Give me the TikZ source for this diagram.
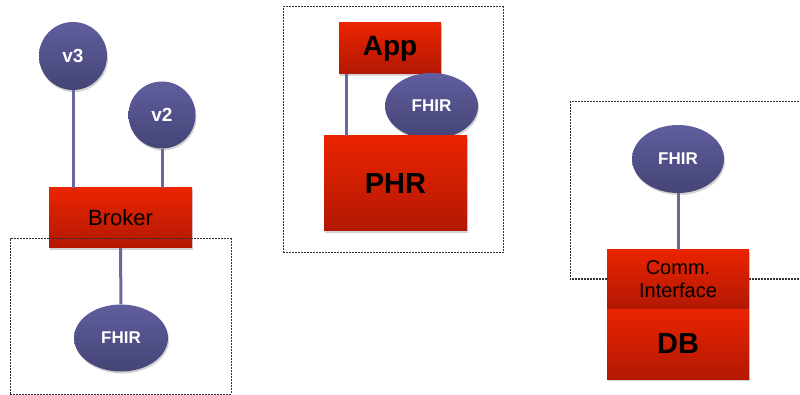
\documentclass[tikz,border=0pt]{standalone}
\usepackage{fontspec}
\setmainfont{Liberation Sans}
\usetikzlibrary{shapes.geometric,shadows}
\definecolor{redtop}{RGB}{234,36,0}
\definecolor{redbot}{RGB}{178,24,4}
\definecolor{purtop}{RGB}{96,94,158}
\definecolor{purbot}{RGB}{68,68,118}
\definecolor{linkc}{RGB}{104,104,158}
\tikzset{
  redbox/.style={rectangle, inner sep=0pt, top color=redtop, bottom color=redbot, draw=none,
    drop shadow={opacity=0.35, shadow xshift=1pt, shadow yshift=-2pt}},
  purple circ/.style={circle, inner sep=0pt, top color=purtop, bottom color=purbot, draw=none,
    text=white, font=\bfseries\fontsize{19}{22}\selectfont,
    drop shadow={opacity=0.35, shadow xshift=1pt, shadow yshift=-2pt}},
  purple ell/.style={ellipse, inner sep=0pt, top color=purtop, bottom color=purbot, draw=none,
    text=white, font=\bfseries\fontsize{17}{20}\selectfont,
    drop shadow={opacity=0.35, shadow xshift=1pt, shadow yshift=-2pt}},
  link/.style={draw=linkc, line width=3pt},
  dashbox/.style={draw=black!80, line width=1pt, dash pattern=on 2pt off 1pt}
}
\begin{document}
\begin{tikzpicture}[x=1pt,y=-1pt]
\useasboundingbox (0,0) rectangle (800,395);
% ---------------- left panel
\node[purple circ, minimum size=68pt] (v3) at (73,56) {v3};
\node[purple circ, minimum size=67pt] (v2) at (162,115) {v2};
\node[redbox, minimum width=143pt, minimum height=60pt, font=\fontsize{22}{26}\selectfont] (broker) at (120.5,218) {Broker};
\node[purple ell, minimum width=94pt, minimum height=67pt] (fhir1) at (121,338) {FHIR};
\draw[link] (v3) -- (v3 |- broker.north);
\draw[link] (v2) -- (v2 |- broker.north);
\draw[link] (broker) -- (fhir1);
\node[dashbox, rectangle, minimum width=221pt, minimum height=155pt, inner sep=0pt] (box1) at (120.5,316.5) {};
% ---------------- middle panel
\node[dashbox, rectangle, minimum width=220pt, minimum height=246pt, inner sep=0pt] (box2) at (393,130) {};
\node[redbox, minimum width=102pt, minimum height=51pt, font=\bfseries\fontsize{28}{32}\selectfont] (app) at (390,48.5) {App};
\coordinate (a1) at (346,74);
\node[purple ell, minimum width=93pt, minimum height=66pt] (fhir2) at (431.5,106) {FHIR};
\node[redbox, minimum width=143pt, minimum height=95pt, font=\bfseries\fontsize{29}{33}\selectfont] (phr) at (395.5,183.5) {PHR};
\draw[link] (a1) -- (a1 |- phr.north);
% ---------------- right panel
\draw[dashbox] (805,102) -- (570,102) -- (570,279) -- (805,279);
\node[purple ell, minimum width=92pt, minimum height=68pt] (fhir3) at (678,159) {FHIR};
\node[redbox, minimum width=142pt, minimum height=58pt, align=center, font=\fontsize{20}{23}\selectfont] (comm) at (678,279) {Comm.\\Interface};
\node[redbox, minimum width=142pt, minimum height=70pt, font=\bfseries\fontsize{29}{33}\selectfont] (db) at (678,344) {DB};
\draw[link] (fhir3) -- (comm);
\end{tikzpicture}
\end{document}
